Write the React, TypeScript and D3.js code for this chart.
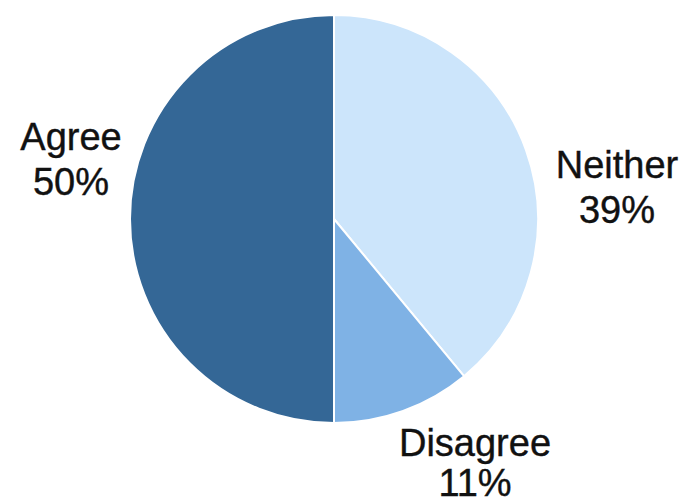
import React from "react";
import * as d3 from "d3";

const categories = ["Neither", "Disagree", "Agree"];
const values = [39, 11, 50];
const colors = ["#cce5fb", "#7fb2e5", "#346796"];
const labelPos: [number, number][] = [
  [617, 178],
  [475, 456],
  [71, 150],
];
const lineGap = [45, 40, 45];

export default function App() {
  const W = 696, H = 503;
  const cx = 334, cy = 219, r = 204;
  const pie = d3.pie<number>().sort(null).value((d) => d);
  const arcs = pie(values);
  const arcGen = d3.arc<d3.PieArcDatum<number>>().innerRadius(0).outerRadius(r);
  return (
    <svg
      width={W}
      height={H}
      style={{ position: "absolute", left: 0, top: 0, background: "#fff" }}
    >
      <g transform={`translate(${cx},${cy})`}>
        {arcs.map((a, i) => (
          <path
            key={categories[i]}
            d={arcGen(a) || ""}
            fill={colors[i]}
            stroke="#fff"
            strokeWidth={2}
            strokeLinejoin="round"
          />
        ))}
      </g>
      {categories.map((c, i) => (
        <text
          key={c}
          x={labelPos[i][0]}
          y={labelPos[i][1]}
          textAnchor="middle"
          fontFamily="Liberation Sans, Arial, sans-serif"
          fontSize={38}
          fill="#111"
          stroke="#111"
          strokeWidth={0.4}
        >
          <tspan x={labelPos[i][0]}>{c}</tspan>
          <tspan x={labelPos[i][0]} dy={lineGap[i]}>{values[i]}%</tspan>
        </text>
      ))}
    </svg>
  );
}
